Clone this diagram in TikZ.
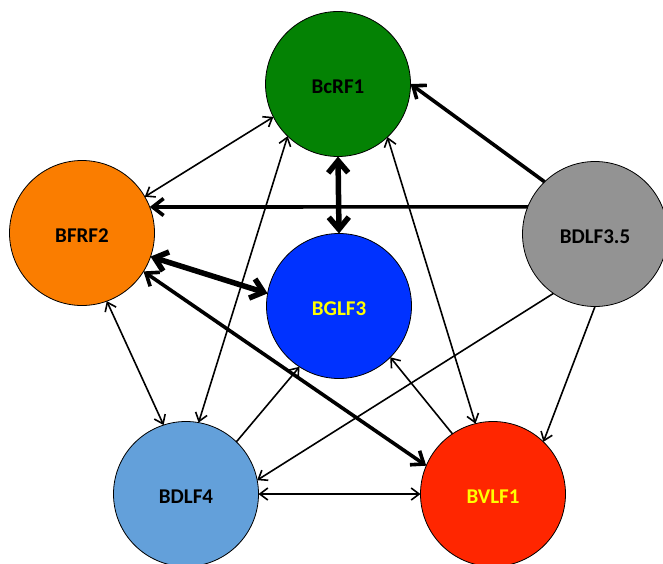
\documentclass[tikz,border=0pt]{standalone}
\usepackage{fontspec}
\setmainfont{Carlito}
\usetikzlibrary{arrows.meta, positioning}

\definecolor{geneGreen}{RGB}{4,130,4}
\definecolor{geneOrange}{RGB}{250,125,0}
\definecolor{geneGray}{RGB}{147,147,147}
\definecolor{geneBlue}{RGB}{0,50,255}
\definecolor{geneSky}{RGB}{99,160,218}
\definecolor{geneRed}{RGB}{255,38,0}
\definecolor{geneYellow}{RGB}{255,255,0}

\begin{document}
\begin{tikzpicture}[x=1pt, y=-1pt,
		gene/.style={circle, draw=black, line width=0.8pt, minimum size=145pt, inner sep=0pt, outer sep=0pt,
			text height=19pt, text depth=0pt, font=\fontsize{21}{24}\selectfont\bfseries},
		weak/.style={line width=1.6pt, >={Straight Barb[length=8pt, width=12pt]}},
		strong/.style={line width=3.6pt, >={Straight Barb[length=11pt, width=17pt]}},
		heavy/.style={line width=5.5pt, >={Straight Barb[length=12pt, width=20pt]}}]
	\useasboundingbox (0,0) rectangle (663,564);
	\clip (0,0) rectangle (663,564);
	
	% Genes
	\node[gene, fill=geneGreen] (BcRF1) at (338,84) {BcRF1};
	\node[gene, fill=geneOrange] (BFRF2) at (82,233) {BFRF2};
	\node[gene, fill=geneGray] (BDLF35) at (595,234) {BDLF3.5};
	\node[gene, fill=geneBlue, text=geneYellow] (BGLF3) at (339,306) {BGLF3};
	\node[gene, fill=geneSky] (BDLF4) at (186,494) {BDLF4};
	\node[gene, fill=geneRed, text=geneYellow] (BVLF1) at (493,494) {BVLF1};
	
	% Thin links
	\draw[weak, <->] (BFRF2.30) -- (BcRF1.207);
	\draw[weak, <->] (BFRF2.-70) -- (BDLF4.108);
	\draw[weak, <->] (BcRF1.226) -- (BDLF4.80);
	\draw[weak, <->] (BcRF1.-47) -- (BVLF1.104);
	\draw[weak, ->] (BDLF4.46) -- (BGLF3.237);
	\draw[weak, ->] (BVLF1.124) -- (BGLF3.-45);
	\draw[weak, ->] (BDLF35.235) -- (BDLF4.11);
	\draw[weak, ->] (BDLF35.270) -- (BVLF1.46);
	\draw[weak, <->] (BDLF4.east) -- (BVLF1.west);
	
	% Thick links
	\draw[strong, ->] (BDLF35.134) -- (BcRF1.0);
	\draw[strong, ->] (BDLF35.158) -- (BFRF2.21);
	\draw[strong, <->] (BFRF2.-32) -- (BVLF1.157);
	\draw[heavy, <->] (BcRF1.south) -- (BGLF3.north);
	\draw[heavy, <->] (BFRF2.-19) -- (BGLF3.170);
\end{tikzpicture}
\end{document}
